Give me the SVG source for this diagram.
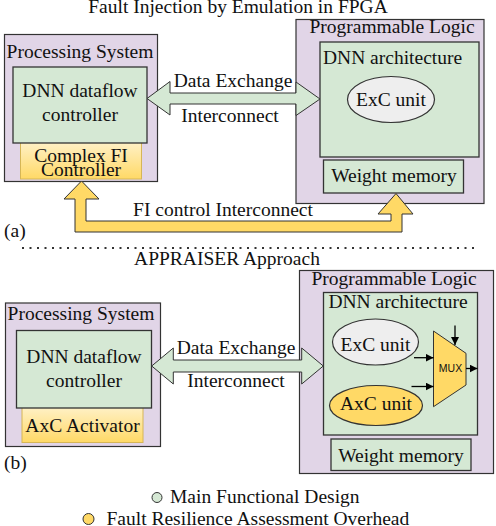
<svg xmlns="http://www.w3.org/2000/svg" width="496" height="526" viewBox="0 0 496 526">
<defs>
<linearGradient id="yg" x1="0" y1="0" x2="0" y2="1">
<stop offset="0" stop-color="#fff2cc"/>
<stop offset="1" stop-color="#ffd966"/>
</linearGradient>
<marker id="ah" markerUnits="userSpaceOnUse" markerWidth="8" markerHeight="8" refX="8" refY="4" orient="auto">
<path d="M0,0 L8,4 L0,8 z" fill="#000"/>
</marker>
</defs>
<style>
text{font-family:"Liberation Serif","Times New Roman",serif;font-size:19.5px;fill:#111}
.c{text-anchor:middle}
.pur{fill:#e1d5e7;stroke:#333;stroke-width:1.2}
.grn{fill:#d5e8d4;stroke:#333;stroke-width:1.3}
.yel{fill:url(#yg);stroke:#d6b656;stroke-width:1}
.arr{fill:#d5e8d4;stroke:#333;stroke-width:1}
.fi{fill:#ffd966;stroke:#333;stroke-width:1}
.ln{stroke:#000;stroke-width:1.3;fill:none;marker-end:url(#ah)}
.mux{font-family:"Liberation Sans",Arial,sans-serif;font-size:10.5px}
</style>
<rect width="496" height="526" fill="#fff"/>

<text class="c" x="238" y="13">Fault Injection by Emulation in FPGA</text>
<text x="4" y="237">(a)</text>
<line x1="22" y1="248" x2="474" y2="248" stroke="#333" stroke-width="2" stroke-dasharray="2 5.5"/>
<text class="c" x="227" y="265">APPRAISER Approach</text>
<text x="4" y="469">(b)</text>

<g id="ps-a">
<rect class="pur" x="4.5" y="34.5" width="153" height="147"/>
<text class="c" x="80" y="58">Processing System</text>
</g>
<g id="fic-a">
<rect class="yel" x="20.5" y="140" width="121" height="39"/>
<text class="c" x="81" y="161.5">Complex FI</text>
<text class="c" x="81" y="175.5">Controller</text>
</g>
<g id="dnnc-a">
<rect class="grn" x="13" y="67" width="134" height="76"/>
<text class="c" x="80" y="97">DNN dataflow</text>
<text class="c" x="80" y="121">controller</text>
</g>

<g id="pl-a">
<rect class="pur" x="296" y="19.5" width="188" height="184"/>
<text class="c" x="392" y="33">Programmable Logic</text>
</g>
<g id="arch-a">
<rect class="grn" x="320" y="42" width="159" height="115"/>
<text x="323" y="64">DNN architecture</text>
</g>
<g id="exc-a">
<ellipse cx="391" cy="99.5" rx="43.5" ry="23" fill="#eeeeee" stroke="#333" stroke-width="1.2"/>
<text class="c" x="391" y="105.5">ExC unit</text>
</g>
<g id="wm-a">
<rect class="grn" x="323.5" y="160" width="140" height="33"/>
<text class="c" x="394" y="182">Weight memory</text>
</g>

<g id="ps-b">
<rect class="pur" x="5.5" y="303" width="155" height="143.5"/>
<text class="c" x="81" y="320">Processing System</text>
</g>
<g id="axa-b">
<rect class="yel" x="22" y="405" width="121" height="37.5"/>
<text class="c" x="82.5" y="431.5">AxC Activator</text>
</g>
<g id="dnnc-b">
<rect class="grn" x="16.5" y="330.5" width="135" height="77.5"/>
<text class="c" x="84" y="363">DNN dataflow</text>
<text class="c" x="84" y="386.5">controller</text>
</g>

<g id="pl-b">
<rect class="pur" x="299.5" y="270.5" width="194" height="203"/>
<text class="c" x="394" y="285">Programmable Logic</text>
</g>
<g id="arch-b">
<rect class="grn" x="323.5" y="292.5" width="154" height="142.5"/>
<text class="c" x="398" y="308">DNN architecture</text>
</g>
<g id="exc-b">
<ellipse cx="375.5" cy="342" rx="43" ry="23" fill="#eeeeee" stroke="#333" stroke-width="1.2"/>
<text class="c" x="375.5" y="351">ExC unit</text>
</g>
<g id="axc-b">
<ellipse cx="376" cy="405.5" rx="46.5" ry="20" fill="#ffd966" stroke="#333" stroke-width="1.2"/>
<text class="c" x="376" y="410">AxC unit</text>
</g>
<g id="mux-b">
<polygon points="433.5,331 466,353.3 466,385 433.5,406.7" fill="#ffd966" stroke="#333" stroke-width="1"/>
<text class="c mux" x="450.5" y="372.3">MUX</text>
</g>
<g id="wm-b">
<rect class="grn" x="331" y="439" width="140" height="31.5"/>
<text class="c" x="401" y="461.5">Weight memory</text>
</g>

<g id="connectors">
<polygon class="arr" points="147,98.5 170,81.5 170,93 296,93 296,82 320,99 296,115.5 296,104 170,104 170,115"/>
<text class="c" x="233" y="86.5">Data Exchange</text>
<text class="c" x="230" y="122">Interconnect</text>
<polygon class="fi" points="81.5,181 99,199 86,199 86,221 391,221 391,214 378,214 396,193.5 413,214 402,214 402,232 75,232 75,199 64,199"/>
<text class="c" x="223" y="216">FI control Interconnect</text>
<polygon class="arr" points="151.7,366 173.3,348 173.3,360 301.7,360 301.7,348 323.3,366 301.7,384 301.7,372 173.3,372 173.3,384"/>
<text class="c" x="236" y="353.5">Data Exchange</text>
<text class="c" x="236" y="386.5">Interconnect</text>
<line class="ln" x1="455" y1="325.5" x2="455" y2="345"/>
<line class="ln" x1="414" y1="357.7" x2="433.5" y2="357.7"/>
<line class="ln" x1="411.5" y1="386.5" x2="433.5" y2="386.5"/>
<line class="ln" x1="466" y1="368.5" x2="477.5" y2="368.5"/>
</g>

<g id="legend">
<circle cx="157" cy="497.5" r="5" fill="#d5e8d4" stroke="#333" stroke-width="1"/>
<text x="170" y="502.5">Main Functional Design</text>
<circle cx="88.5" cy="519" r="5.5" fill="#ffd966" stroke="#333" stroke-width="1"/>
<text x="106.5" y="524.5">Fault Resilience Assessment Overhead</text>
</g>
</svg>
